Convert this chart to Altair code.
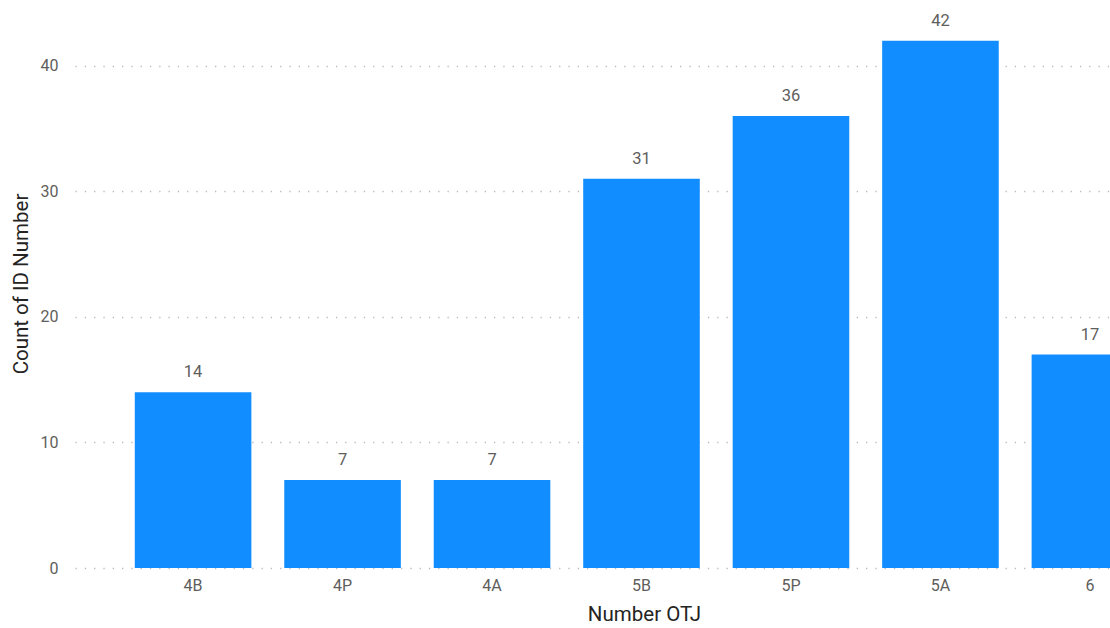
import altair as alt
import pandas as pd

categories = ["4B", "4P", "4A", "5B", "5P", "5A", "6"]
counts = [14, 7, 7, 31, 36, 42, 17]

df = pd.DataFrame({"cat": categories, "count": counts})

FONT = "Roboto"
LABEL_SIZE = 16
TITLE_SIZE = 20.5

x_enc = alt.X(
    "cat:N",
    sort=categories,
    title="Number OTJ",
    scale=alt.Scale(range=[0, 1133], paddingInner=0.22, paddingOuter=0.4),
    axis=alt.Axis(
        labelAngle=0, ticks=False, domain=False, grid=False,
        labelFont=FONT, labelFontSize=LABEL_SIZE, labelColor="#605E5C", labelPadding=9,
        titleFont=FONT, titleFontSize=TITLE_SIZE, titleFontWeight="normal", titleColor="#252423",
        titleX=569, titleY=46, titleAnchor="middle", titleAlign="center", titleBaseline="middle",
    ),
)
y_enc = alt.Y(
    "count:Q",
    title="Count of ID Number",
    scale=alt.Scale(domain=[0, 45], nice=False),
    axis=alt.Axis(
        values=[0, 10, 20, 30, 40], ticks=False, domain=False,
        gridColor="#BDBBB9", gridDash=[1.3, 8], gridWidth=1.3,
        labelFont=FONT, labelFontSize=LABEL_SIZE, labelColor="#605E5C", labelPadding=17,
        titleFont=FONT, titleFontSize=TITLE_SIZE, titleFontWeight="normal", titleColor="#252423",
        titleX=-54, titleY=280.5, titleAngle=270, titleAlign="center", titleBaseline="middle",
    ),
)

base = alt.Chart(df).encode(x=x_enc, y=y_enc)
bars = base.mark_bar(color="#118DFF")
labels = base.mark_text(
    baseline="alphabetic", dy=-15, font=FONT, fontSize=16.5, color="#605E5C"
).encode(text="count:Q")

chart = (
    alt.layer(bars, labels)
    .properties(
        width=1035, height=565,
        background="white",
        autosize=alt.AutoSizeParams(type="none"),
        padding={"left": 75, "top": 3, "right": 0, "bottom": 60},
    )
    .configure_view(stroke="transparent", strokeWidth=0)
    .configure_axis(domain=False)
)

chart.save("out.html", embed_options={"renderer": "svg", "actions": False})
